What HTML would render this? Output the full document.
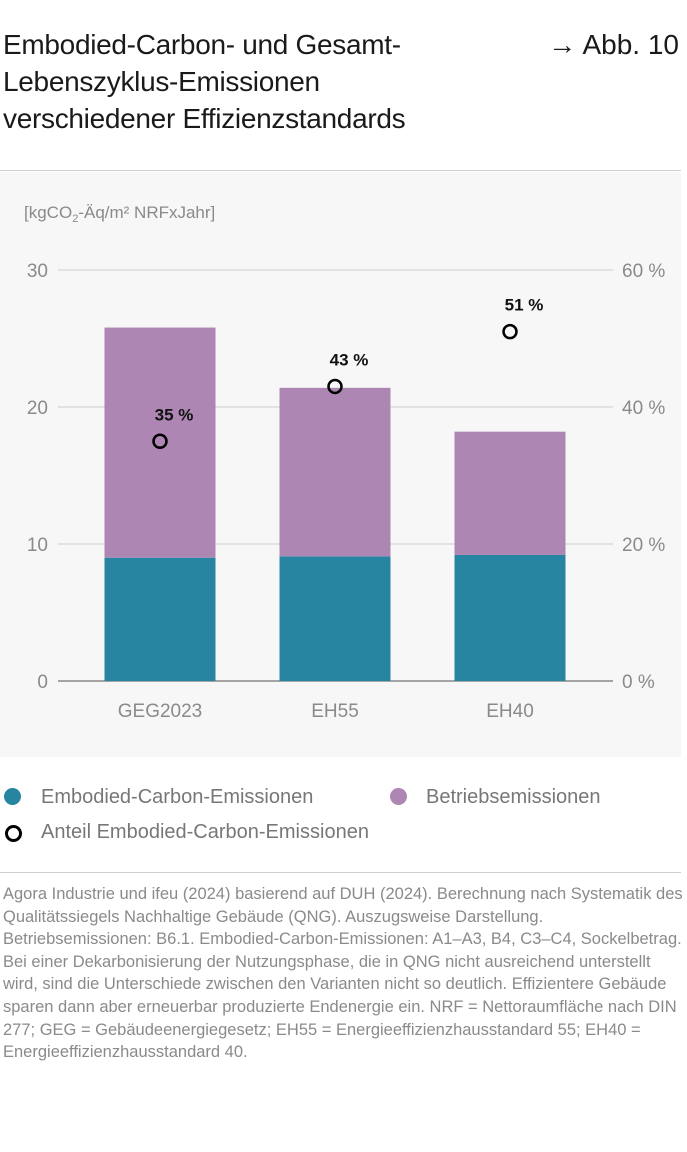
<!DOCTYPE html>
<html><head><meta charset="utf-8"><style>
body{margin:0;width:687px;height:1152px;background:#fff;font-family:"Liberation Sans",sans-serif;position:relative;overflow:hidden}
.t{position:absolute;left:3px;top:26px;font-size:28px;line-height:37px;color:#1a1a1a;letter-spacing:-0.3px}
.abb{position:absolute;right:8px;top:26px;font-size:28px;line-height:37px;color:#1a1a1a}
.hr{position:absolute;left:0;width:681px;height:1px;background:#cfcfcf}
.panel{position:absolute;left:0;top:172px;width:681px;height:585px;background:#f7f7f7}
.leg{position:absolute;font-size:20px;color:#777;line-height:24px}
.dot{position:absolute;width:17px;height:17px;border-radius:50%}
.foot{position:absolute;left:3px;top:883px;width:680px;font-size:16.5px;line-height:22.6px;color:#8a8a8a}
</style></head><body>
<div class="t">Embodied-Carbon- und Gesamt-<br>Lebenszyklus-Emissionen<br>verschiedener Effizienzstandards</div>
<div class="abb">→ Abb. 10</div>
<div class="hr" style="top:170px"></div>
<div class="panel"></div>
<svg id="chart" width="687" height="760" style="position:absolute;left:0;top:0"></svg>
<div class="dot" style="left:4px;top:788px;background:#2785a1"></div>
<div class="leg" style="left:41px;top:785px">Embodied-Carbon-Emissionen</div>
<div class="dot" style="left:390px;top:788px;background:#ae86b3"></div>
<div class="leg" style="left:426px;top:785px">Betriebsemissionen</div>
<div class="dot" style="left:5px;top:825px;width:11px;height:11px;border:3px solid #000;background:#fff"></div>
<div class="leg" style="left:41px;top:820px">Anteil Embodied-Carbon-Emissionen</div>
<div class="hr" style="top:872px"></div>
<div class="foot">Agora Industrie und ifeu (2024) basierend auf DUH (2024). Berechnung nach Systematik des Qualitätssiegels Nachhaltige Gebäude (QNG). Auszugsweise Darstellung. Betriebsemissionen: B6.1. Embodied-Car­bon-Emissionen: A1–A3, B4, C3–C4, Sockelbetrag. Bei einer Dekarboni­sierung der Nutzungsphase, die in QNG nicht ausreichend unterstellt wird, sind die Unterschiede zwischen den Varianten nicht so deutlich. Effizientere Gebäude sparen dann aber erneuerbar produzierte Endenergie ein. NRF = Nettoraumfläche nach DIN 277; GEG = Gebäude­energiegesetz; EH55 = Energieeffizienzhausstandard 55; EH40 = Ener­gieeffizienzhausstandard 40.</div>
<script>
const categories=["GEG2023","EH55","EH40"];
const embodied=[9.0,9.1,9.2];
const betrieb=[16.8,12.3,9.0];
const share=[35,43,51];
const shareLabels=["35 %","43 %","51 %"];
const leftTicks=[0,10,20,30];
const rightTicks=[0,20,40,60];
const NS="http://www.w3.org/2000/svg";
const svg=document.getElementById("chart");
const y0=681,yTop=270,x0=42,x1=617;
const yL=v=>y0-(v/30)*(y0-yTop);
const yR=p=>y0-(p/60)*(y0-yTop);
const cx=i=>160+i*175;
const bw=111;
function mk(tag,attrs){const e=document.createElementNS(NS,tag);for(const k in attrs)e.setAttribute(k,attrs[k]);svg.appendChild(e);return e;}
let u=mk("text",{x:24,y:218,"font-size":"17","fill":"#8a8a8a","font-family":"Liberation Sans, sans-serif"});


u.innerHTML='[kgCO<tspan font-size="11" dy="4">2</tspan><tspan dy="-4">-Äq/m² NRFxJahr]</tspan>';
leftTicks.forEach((v,i)=>{
 const g=mk("line",{x1:x0+16,x2:x1-4,y1:yL(v),y2:yL(v),stroke:v===0?"#888":"#e2e2e2","stroke-width":v===0?1.5:2});
 
 
 const t=mk("text",{x:48,y:yL(v)+7,"text-anchor":"end","font-size":"19",fill:"#8a8a8a"});
 
 
 t.textContent=v;
 const r=mk("text",{x:622,y:yR(rightTicks[i])+7,"font-size":"19",fill:"#8a8a8a"});
 
 
 r.textContent=rightTicks[i]+" %";
});
categories.forEach((c,i)=>{
 const a=mk("rect",{x:cx(i)-bw/2,y:yL(embodied[i]),width:bw,height:y0-yL(embodied[i]),fill:"#2785a1"});
 
 
 const b=mk("rect",{x:cx(i)-bw/2,y:yL(embodied[i]+betrieb[i]),width:bw,height:yL(embodied[i])-yL(embodied[i]+betrieb[i]),fill:"#ae86b3"});
 
 
 const l=mk("text",{x:cx(i),y:717,"text-anchor":"middle","font-size":"19",fill:"#8a8a8a"});
 
 
 l.textContent=c;
 const p=mk("circle",{cx:cx(i),cy:yR(share[i]),r:6.5,fill:"none",stroke:"#000","stroke-width":2.5});
 
 
 const pl=mk("text",{x:cx(i)+14,y:yR(share[i])-21,"text-anchor":"middle","font-size":"17","font-weight":"bold",fill:"#111"});
 
 
 pl.textContent=shareLabels[i];
});
</script>
</body></html>
